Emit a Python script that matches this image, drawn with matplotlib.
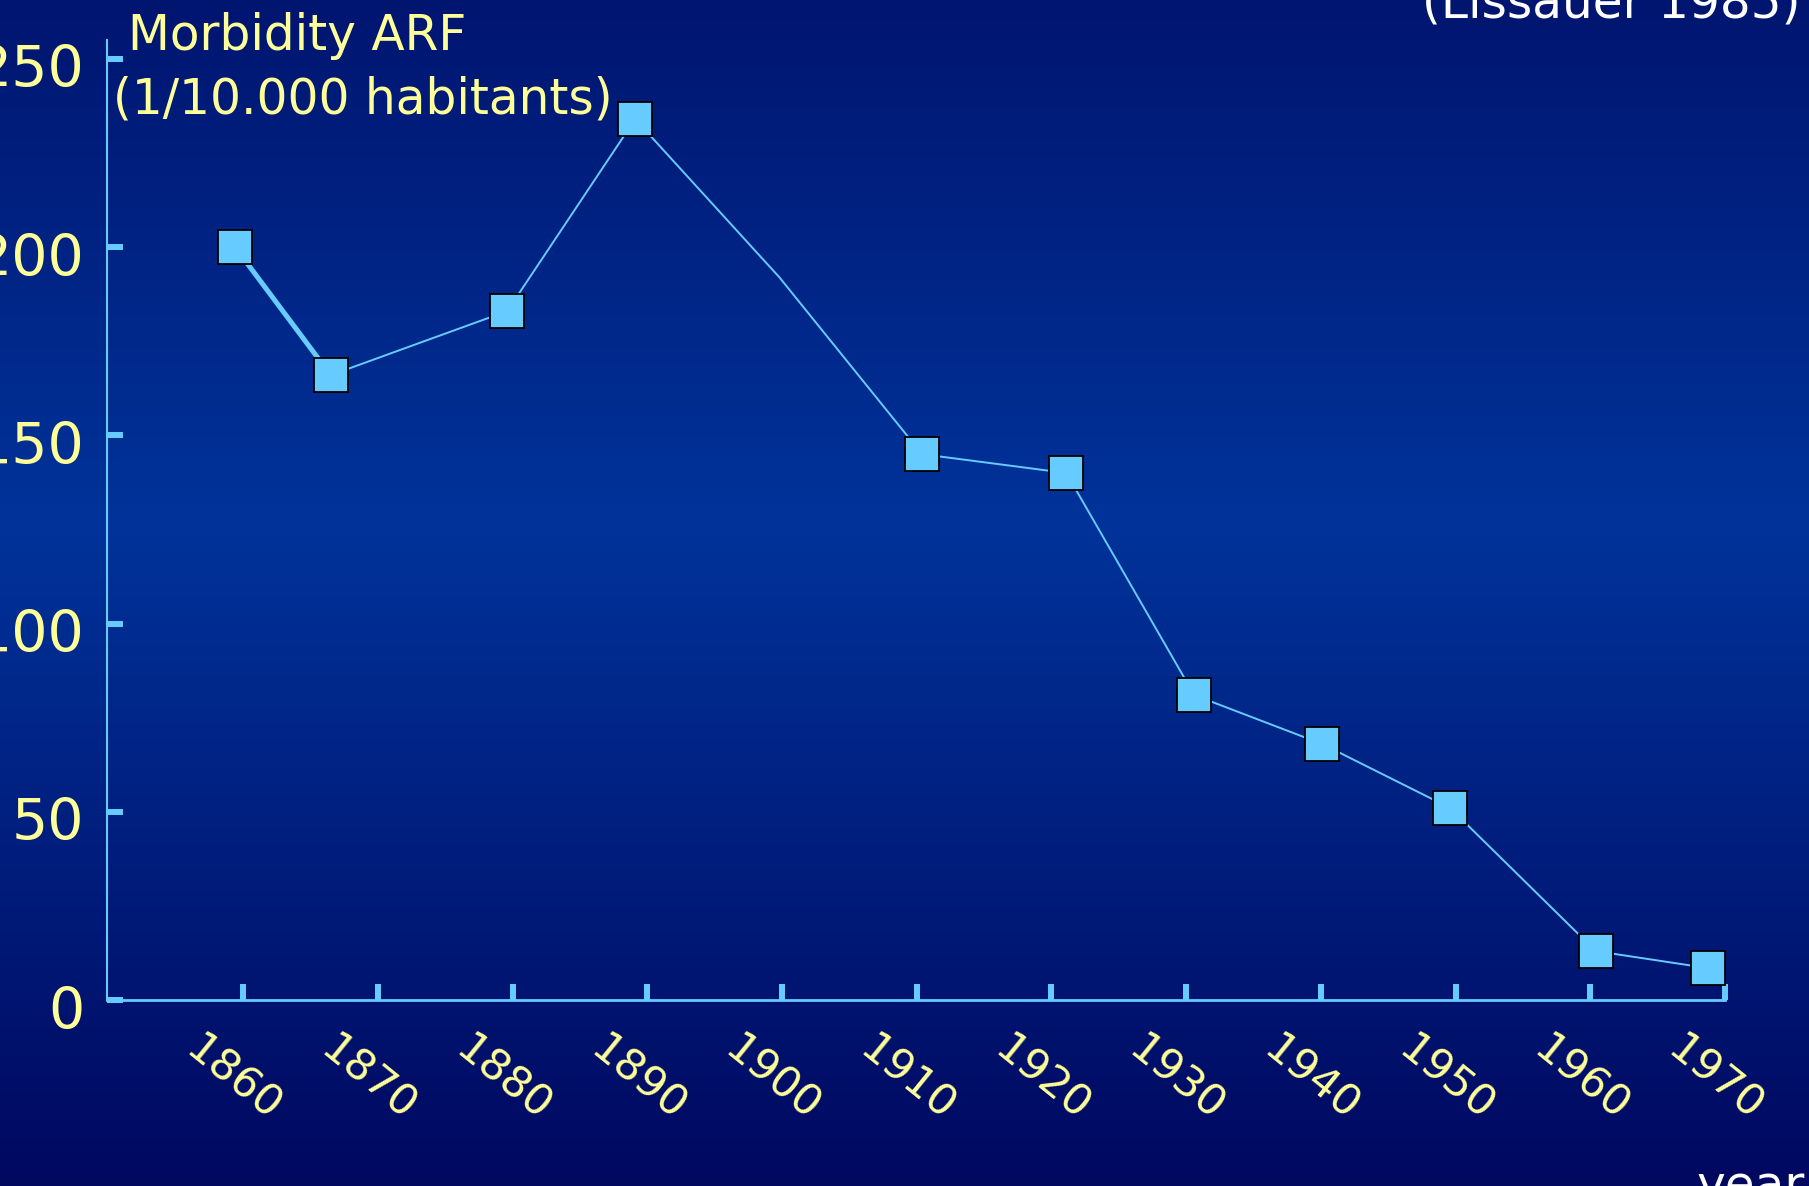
import numpy as np
import matplotlib
matplotlib.use("Agg")
import matplotlib.pyplot as plt
import matplotlib.transforms as mtransforms
from matplotlib.colors import LinearSegmentedColormap

# Acute rheumatic fever morbidity per 10,000 inhabitants
years = [1859.4, 1866.5, 1879.6, 1889.1, 1899.8, 1910.4, 1921.1,
         1930.6, 1940.1, 1949.6, 1960.4, 1968.7]
morbidity = [200, 166, 183, 234, 192, 145, 140, 81, 68, 51, 13, 8.5]
# The 1900 value is a bend in the curve without a marker
marker_idx = [0, 1, 2, 3, 5, 6, 7, 8, 9, 10, 11]

x_ticks = [1860, 1870, 1880, 1890, 1900, 1910, 1920, 1930, 1940, 1950, 1960, 1970]
y_ticks = [0, 50, 100, 150, 200, 250]

yellow = "#ffff99"
cyan = "#66ccff"

plt.rcParams["font.family"] = ["DejaVu Sans"]

fig = plt.figure(figsize=(18.09, 11.86), dpi=100)

# Slide background: vertical navy gradient, brightest a little above the middle
bg = fig.add_axes([0, 0, 1, 1], zorder=-10)
bg_cmap = LinearSegmentedColormap.from_list(
    "slide", [(0.0, "#000860"), (0.56, "#00339a"), (1.0, "#001570")])
grad = np.linspace(0, 1, 512).reshape(-1, 1)
bg.imshow(grad, aspect="auto", cmap=bg_cmap, origin="lower",
          extent=[0, 1, 0, 1])
bg.set_axis_off()

ax = fig.add_axes([0.0592, 0.1568, 0.8944, 0.8094])
ax.set_facecolor("none")
ax.set_xlim(1849.9, 1970)
ax.set_ylim(0, 255)

# Curve: thin line overall, heavier first segment, square markers
ax.plot(years, morbidity, color=cyan, lw=1.4, zorder=3, clip_on=False)
ax.plot(years[:2], morbidity[:2], color=cyan, lw=3.6, zorder=3,
        solid_capstyle="butt", clip_on=False)
ax.plot(years, morbidity, linestyle="none", marker="s", markersize=25,
        markerfacecolor=cyan, markeredgecolor="black", markeredgewidth=1.3,
        markevery=marker_idx, zorder=4, clip_on=False)

for side in ("top", "right"):
    ax.spines[side].set_visible(False)
ax.spines["left"].set_color(cyan)
ax.spines["left"].set_linewidth(1.5)
ax.spines["bottom"].set_color(cyan)
ax.spines["bottom"].set_linewidth(2.0)

ax.set_xticks(x_ticks)
ax.set_xticklabels([str(y) for y in x_ticks], rotation=-39,
                   ha="center", va="top", fontsize=31, color=yellow)
ax.set_yticks(y_ticks)
ax.set_yticklabels([str(v) for v in y_ticks], fontsize=41, color=yellow,
                   va="center")
ax.tick_params(axis="x", direction="in", length=11.5, width=4.3,
               color=cyan, pad=20)
ax.tick_params(axis="y", direction="in", length=11.5, width=4.3,
               color=cyan, pad=16.5)
# y labels sit a little below their ticks, year labels a touch to the left
y_shift = mtransforms.ScaledTranslation(0, -13 / 100, fig.dpi_scale_trans)
for lab in ax.get_yticklabels():
    lab.set_transform(lab.get_transform() + y_shift)
x_shift = mtransforms.ScaledTranslation(-10 / 100, 0, fig.dpi_scale_trans)
for lab in ax.get_xticklabels():
    lab.set_transform(lab.get_transform() + x_shift)

# Axis title text
fig.text(128 / 1809, 1 - 50 / 1186, "Morbidity ARF", color=yellow,
         fontsize=35, ha="left", va="baseline")
fig.text(113 / 1809, 1 - 113 / 1186, "(1/10.000 habitants)", color=yellow,
         fontsize=35, ha="left", va="baseline")

# Source and x-axis name in white
fig.text(1800 / 1809, 1 - 18 / 1186, "(Lissauer 1985)", color="white",
         fontsize=35, ha="right", va="baseline")
fig.text(1697 / 1809, 1 - 1201 / 1186, "year", color="white",
         fontsize=35, ha="left", va="baseline")

fig.savefig("out.png", dpi=100)
